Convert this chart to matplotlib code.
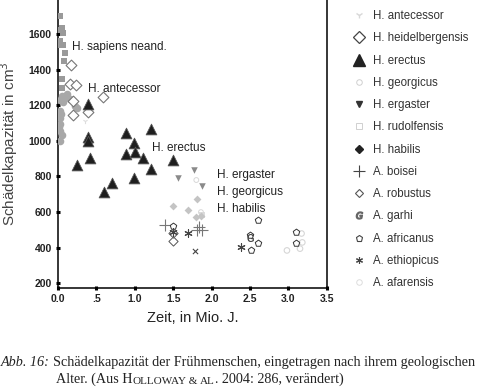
import matplotlib
matplotlib.use("Agg")
import matplotlib.pyplot as plt
from matplotlib.lines import Line2D
from matplotlib.text import Annotation

plt.rcParams['font.family'] = ['Liberation Sans', 'DejaVu Sans']

# ---- data (time in Mio. J., cranial capacity in cm3) ----
sap_sq_x = [0.03, 0.05, 0.06, 0.02, 0.06, 0.09, 0.08, 0.05, 0.05, 0.04, 0.03]
sap_sq_y = [1700, 1635, 1605, 1560, 1535, 1495, 1450, 1345, 1295, 1620, 1540]
sap_ci_x = [0.05, 0.09, 0.15, 0.22, 0.03, 0.02, 0.03, 0.03, 0.03, 0.25, 0.12, 0.02, 0.06, 0.04, 0.01, 0.05]
sap_ci_y = [1253, 1247, 1236, 1197, 1170, 1130, 1095, 1057, 1000, 1186, 1262, 1230, 1215, 1150, 1080, 1030]
heid_x = [0.17, 0.15, 0.23, 0.19, 0.20, 0.39, 0.59]
heid_y = [1425, 1320, 1315, 1225, 1145, 1160, 1245]
erec_x = [0.39, 0.39, 0.39, 0.88, 1.21, 0.99, 0.88, 1.00, 1.10, 1.50, 0.41, 0.25, 1.21, 0.99, 0.70, 0.60]
erec_y = [1208, 1020, 1000, 1046, 1068, 990, 928, 935, 903, 895, 906, 866, 844, 794, 766, 712]
erga_x = [1.77, 1.56, 1.87]
erga_y = [835, 790, 745]
habi_x = [1.50, 1.69, 1.81, 1.80, 1.86]
habi_y = [632, 614, 676, 572, 578]
rudo_x = [1.87]
rudo_y = [585]
geor_x = [1.80, 1.86]
geor_y = [780, 600]
ante_x = [0.35]
ante_y = [1113]
bois_x = [1.39, 1.81, 1.88, 1.84]
bois_y = [527, 500, 497, 515]
robu_x = [1.50, 1.50]
robu_y = [437, 485]
garh_x = [2.50]
garh_y = [450]
afri_x = [1.50, 2.60, 2.50, 2.60, 2.51, 3.10, 3.10]
afri_y = [522, 553, 474, 424, 390, 491, 424]
ethi_x = [2.38, 1.69, 1.50]
ethi_y = [407, 480, 488]
xmark_x = [1.78]
xmark_y = [380]
afar_x = [2.98, 3.15, 3.17, 3.18]
afar_y = [385, 395, 480, 430]

legend_labels = ["H. antecessor", "H. heidelbergensis", "H. erectus", "H. georgicus",
                 "H. ergaster", "H. rudolfensis", "H. habilis", "A. boisei",
                 "A. robustus", "A. garhi", "A. africanus", "A. ethiopicus", "A. afarensis"]

annotations = [("H. sapiens neand.", 0.18, 1527), ("H. antecessor", 0.39, 1292),
               ("H. erectus", 1.22, 962), ("H. ergaster", 2.07, 810),
               ("H. georgicus", 2.07, 715), ("H. habilis", 2.07, 620)]

xticks = [0.0, 0.5, 1.0, 1.5, 2.0, 2.5, 3.0, 3.5]
xticklabels = ["0.0", ".5", "1.0", "1.5", "2.0", "2.5", "3.0", "3.5"]
yticks = [200, 400, 600, 800, 1000, 1200, 1400, 1600]

# ---- figure ----
fig = plt.figure(figsize=(4.8, 3.89), dpi=100)
ax = fig.add_axes([0.121, 0.26, 0.56, 0.74])

ax.scatter(sap_sq_x, sap_sq_y, marker='s', s=14, color='#9a9a9a', linewidths=0, zorder=3)
ax.scatter(sap_ci_x, sap_ci_y, marker='o', s=30, color='#a8a8a8', linewidths=0, zorder=3)
ax.scatter(heid_x, heid_y, marker='D', s=30, facecolors='white', edgecolors='#777777', linewidths=0.8, zorder=4)
ax.scatter(erec_x, erec_y, marker='^', s=60, color='#1e1e1e', edgecolors='#555555', linewidths=0.6, zorder=4)
ax.scatter(erga_x, erga_y, marker='v', s=22, color='#8a8a8a', linewidths=0, zorder=4)
ax.scatter(habi_x, habi_y, marker='D', s=16, color='#c4c4c4', linewidths=0, zorder=4)
ax.scatter(rudo_x, rudo_y, marker='s', s=20, color='#dcdcdc', linewidths=0, zorder=3)
ax.scatter(geor_x, geor_y, marker='o', s=12, facecolors='none', edgecolors='#d8d8d8', linewidths=0.7, zorder=3)
ax.scatter(ante_x, ante_y, marker='1', s=14, color='#dddddd', linewidths=0.8, zorder=3)
ax.scatter(bois_x, bois_y, marker='+', s=80, color='#777777', linewidths=0.8, zorder=4)
ax.scatter(robu_x, robu_y, marker='D', s=22, facecolors='white', edgecolors='#555555', linewidths=0.7, zorder=5)
for gx, gy in zip(garh_x, garh_y):
    ax.text(gx, gy, "G", fontsize=7, color='#444444', ha='center', va='center', fontweight='bold', zorder=5)
ax.scatter(afri_x, afri_y, marker='p', s=24, facecolors='white', edgecolors='#333333', linewidths=0.7, zorder=4)
ax.scatter(ethi_x, ethi_y, marker=(6, 2, 0), s=28, color='#444444', linewidths=0.8, zorder=5)
ax.scatter(xmark_x, xmark_y, marker='x', s=14, color='#444444', linewidths=0.8, zorder=5)
ax.scatter(afar_x, afar_y, marker='o', s=16, facecolors='none', edgecolors='#d6d6d6', linewidths=0.8, zorder=3)

for txt, tx, ty in annotations:
    ax.text(tx, ty, txt, fontsize=8.5, color='#222222', ha='left', va='center')

ax.set_xlim(0, 3.5)
ax.set_ylim(175, 1790)
ax.set_xticks(xticks)
ax.set_xticklabels(xticklabels, fontweight='bold', fontsize=7.5)
ax.set_yticks(yticks)
ax.set_yticklabels([str(v) for v in yticks], fontweight='bold', fontsize=7.5)
ax.tick_params(direction='inout', length=3, width=2.2, pad=3, labelcolor='#222222')
for side in ['left', 'bottom', 'right']:
    ax.spines[side].set_linewidth(1.1)
ax.spines['top'].set_visible(False)
ax.set_xlabel("Zeit, in Mio. J.", fontsize=10.5, color='#222222', labelpad=5)
ax.set_ylabel("Schädelkapazität in cm$^3$", fontsize=11, color='#444444', labelpad=6)

# legend with custom handles
handles = [
    Line2D([], [], ls='none', marker='1', ms=5, color='#d8d8d8'),
    Line2D([], [], ls='none', marker='D', ms=6, mfc='white', mec='#444444', mew=0.9),
    Line2D([], [], ls='none', marker='^', ms=8, color='#222222'),
    Line2D([], [], ls='none', marker='o', ms=4, mfc='none', mec='#d0d0d0', mew=0.7),
    Line2D([], [], ls='none', marker='v', ms=4, color='#333333'),
    Line2D([], [], ls='none', marker='s', ms=5, mfc='none', mec='#d0d0d0', mew=0.7),
    Line2D([], [], ls='none', marker='D', ms=4, color='#222222'),
    Line2D([], [], ls='none', marker='+', ms=8, color='#444444', mew=0.8),
    Line2D([], [], ls='none', marker='D', ms=4.5, mfc='white', mec='#555555', mew=0.8),
    Line2D([], [], ls='none', marker='$G$', ms=5, color='#666666'),
    Line2D([], [], ls='none', marker='p', ms=4.5, mfc='white', mec='#444444', mew=0.8),
    Line2D([], [], ls='none', marker=(6, 2, 0), ms=5, color='#444444', mew=0.8),
    Line2D([], [], ls='none', marker='o', ms=4, mfc='none', mec='#dddddd', mew=0.7),
]
fig.legend(handles, legend_labels, loc='upper left', bbox_to_anchor=(0.72, 0.992),
           frameon=False, fontsize=8.3, labelspacing=0.89, handlelength=1.2,
           handletextpad=0.6, borderaxespad=0.2, labelcolor='#333333')

# caption
ser = 'Liberation Serif'
fig.text(0.002, 0.058, "Abb. 16:", style='italic', va='baseline', family=ser,
         fontsize=10.2, color='#222222')
fig.text(0.11, 0.058, "Schädelkapazität der Frühmenschen, eingetragen nach ihrem geologischen",
         va='baseline', family=ser, fontsize=10.2, color='#222222')
parts = [("Alter. (Aus H", 10.2), ("OLLOWAY", 8), (" & ", 8), ("AL", 8), (". 2004: 286, verändert)", 10.2)]
anchor = fig.text(0.116, 0.016, parts[0][0], va='baseline', family=ser,
                  fontsize=parts[0][1], color='#222222')
for s, fs in parts[1:]:
    anchor = fig.add_artist(Annotation(
        s, xy=(1, 0), xycoords=anchor, xytext=(0, 0), textcoords='offset points',
        va='bottom', ha='left', family=ser, fontsize=fs, color='#222222'))

fig.savefig("out.png", dpi=100)
